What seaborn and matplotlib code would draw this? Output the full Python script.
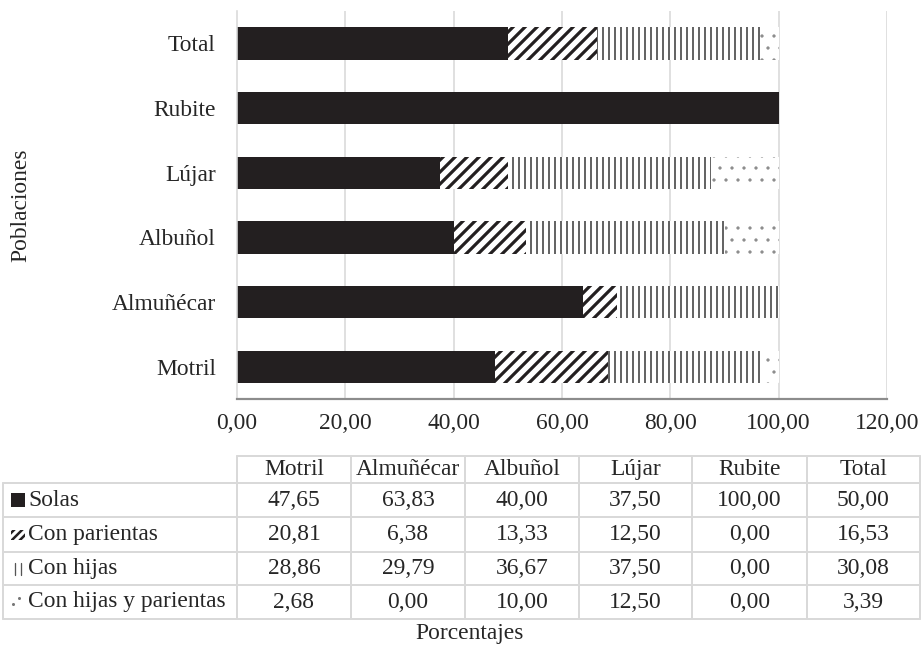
import matplotlib
matplotlib.use("Agg")
import matplotlib.pyplot as plt
import pandas as pd
import seaborn as sns
from matplotlib.patches import Rectangle
from matplotlib.lines import Line2D

# ---- data -------------------------------------------------------------
poblaciones = ["Motril", "Almuñécar", "Albuñol", "Lújar", "Rubite", "Total"]
series = ["Solas", "Con parientas", "Con hijas", "Con hijas y parientas"]
solas = [47.65, 63.83, 40.00, 37.50, 100.00, 50.00]
con_parientas = [20.81, 6.38, 13.33, 12.50, 0.00, 16.53]
con_hijas = [28.86, 29.79, 36.67, 37.50, 0.00, 30.08]
con_hijas_parientas = [2.68, 0.00, 10.00, 12.50, 0.00, 3.39]
x_ticks = [0, 20, 40, 60, 80, 100, 120]
x_tick_labels = ["0,00", "20,00", "40,00", "60,00", "80,00", "100,00", "120,00"]

valores = [solas, con_parientas, con_hijas, con_hijas_parientas]

# ---- style ------------------------------------------------------------
sns.set_theme(style="white")
plt.rcParams["font.family"] = ["Liberation Serif", "DejaVu Serif"]
plt.rcParams["hatch.linewidth"] = 1.5
FS = 23.5
DARK = "#231f20"
GRID = "#d9d9d9"

W, H, DPI = 922, 663, 72
fig = plt.figure(figsize=(W / DPI, H / DPI), dpi=DPI)
fig.patch.set_facecolor("white")

ax_l, ax_r, ax_t, ax_b = 237, 887, 11, 399
ax = fig.add_axes([ax_l / W, 1 - ax_b / H, (ax_r - ax_l) / W, (ax_b - ax_t) / H])

# cumulative totals, drawn back to front so each layer covers the previous
df = pd.DataFrame({"poblacion": poblaciones})
acum = [0.0] * len(poblaciones)
for name, vals in zip(series, valores):
    acum = [a + v for a, v in zip(acum, vals)]
    df[name] = acum

orden = poblaciones[::-1]  # Total on top

capas = [
    ("Con hijas y parientas", "white", ".", "#8a8a8a", 0.8),
    ("Con hijas", "white", "||", "#333333", 1.5),
    ("Con parientas", "white", "//", DARK, 3.2),
    ("Solas", DARK, None, DARK, None),
]
for col, face, hatch, edge, hlw in capas:
    kws = dict(hatch=hatch) if hatch else {}
    sns.barplot(data=df, x=col, y="poblacion", order=orden, orient="h",
                color=face, saturation=1, edgecolor=edge, linewidth=0,
                width=0.5, errorbar=None, ax=ax, **kws)
    if hlw is not None:
        for p in ax.containers[-1]:
            if hasattr(p, "set_hatch_linewidth"):
                p.set_hatch_linewidth(hlw)

ax.set_xlim(0, 120)
ax.set_ylim(len(orden) - 0.5, -0.5)
ax.set_xticks(x_ticks)
ax.set_xticklabels(x_tick_labels, fontsize=FS)
ax.tick_params(axis="y", labelsize=FS, length=0, pad=21)
ax.tick_params(axis="x", length=0, pad=14)
ax.set_xlabel("")
ax.set_ylabel("")
ax.grid(False)
for t in x_ticks[1:]:
    ax.axvline(t, color=GRID, lw=1.6, zorder=0)
for s in ["top", "right"]:
    ax.spines[s].set_visible(False)
ax.spines["left"].set_color(GRID)
ax.spines["left"].set_linewidth(1.6)
ax.spines["bottom"].set_color("#8c8c8c")
ax.spines["bottom"].set_linewidth(2.2)
ax.set_facecolor("white")

# ---- data table under the chart (pixel coordinates) ----------------
ov = fig.add_axes([0, 0, 1, 1], facecolor="none")
ov.set_xlim(0, W)
ov.set_ylim(H, 0)
ov.axis("off")

col_edges = [3, 237, 351, 465, 579, 692, 807, 920]
row_edges = [456, 483, 517, 552, 585, 619]

def hline(y, x0, x1):
    ov.add_line(Line2D([x0, x1], [y, y], color=GRID, lw=2))

def vline(x, y0, y1):
    ov.add_line(Line2D([x, x], [y0, y1], color=GRID, lw=2))

hline(row_edges[0], col_edges[1], col_edges[-1])
for y in row_edges[1:]:
    hline(y, col_edges[0], col_edges[-1])
vline(col_edges[0], row_edges[1], row_edges[-1])
for x in col_edges[1:]:
    vline(x, row_edges[0], row_edges[-1])

def fmt(v):
    return f"{v:.2f}".replace(".", ",")

hy = (row_edges[0] + row_edges[1]) / 2
for j, pob in enumerate(poblaciones):
    cx = (col_edges[j + 1] + col_edges[j + 2]) / 2
    ov.text(cx, hy, pob, ha="center", va="center", fontsize=FS)

for i, (name, vals) in enumerate(zip(series, valores)):
    cy = (row_edges[i + 1] + row_edges[i + 2]) / 2
    ov.text(28, cy, name, ha="left", va="center", fontsize=FS)
    for j, v in enumerate(vals):
        cx = (col_edges[j + 1] + col_edges[j + 2]) / 2
        ov.text(cx, cy, fmt(v), ha="center", va="center", fontsize=FS)

# legend keys in the first column
r0 = (row_edges[1] + row_edges[2]) / 2
ov.add_patch(Rectangle((11, r0 - 7), 14, 14, facecolor=DARK, edgecolor="none"))
r1 = (row_edges[2] + row_edges[3]) / 2
k = Rectangle((11, r1 - 5), 14, 10, facecolor="white", edgecolor=DARK,
              hatch="///", linewidth=0)
if hasattr(k, "set_hatch_linewidth"):
    k.set_hatch_linewidth(2.5)
ov.add_patch(k)
r2 = (row_edges[3] + row_edges[4]) / 2
for x in (15, 21):
    ov.add_line(Line2D([x, x], [r2 - 6, r2 + 6], color="#555555", lw=1.3))
r3 = (row_edges[4] + row_edges[5]) / 2
ov.plot([13, 19], [r3 + 2, r3 - 4], ls="none", marker="o", ms=2, color="#777777")

# axis titles
fig.text(21 / W, 1 - 205 / H, "Poblaciones", rotation=90, ha="center",
         va="center", fontsize=FS)
fig.text(470 / W, 1 - 634 / H, "Porcentajes", ha="center", va="center",
         fontsize=FS)

fig.savefig("out.png", dpi=DPI, facecolor="white")
